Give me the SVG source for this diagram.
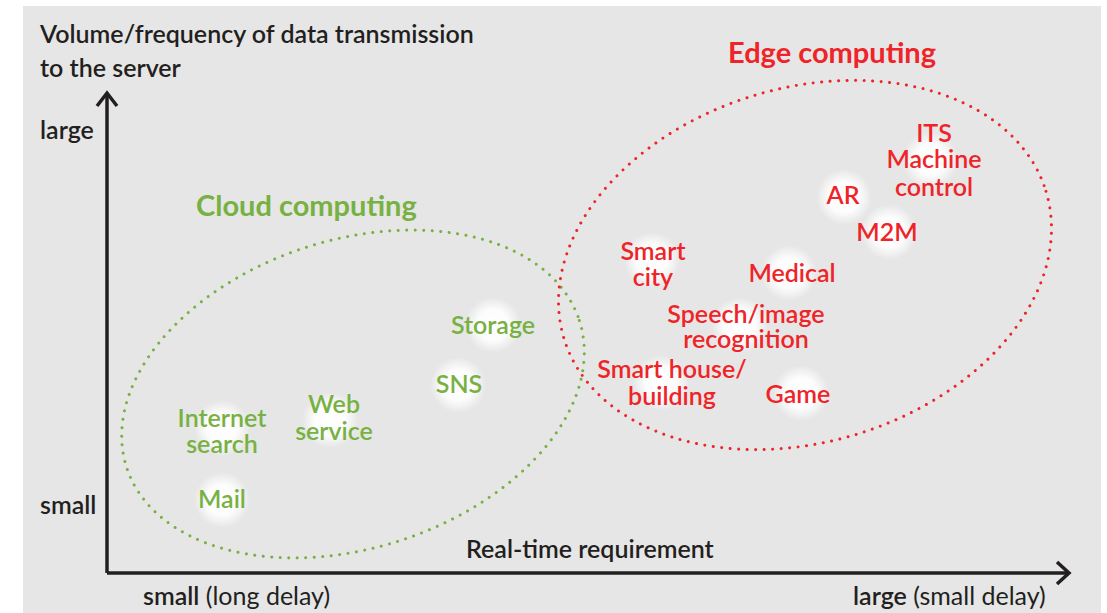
<svg xmlns="http://www.w3.org/2000/svg" width="1107" height="613" viewBox="0 0 1107 613">
<defs>
<radialGradient id="glow">
<stop offset="0" stop-color="#ffffff" stop-opacity="1"/>
<stop offset="0.55" stop-color="#ffffff" stop-opacity="0.9"/>
<stop offset="1" stop-color="#ffffff" stop-opacity="0"/>
</radialGradient>
</defs>
<style>
text{font-family:Lato,"Liberation Sans",sans-serif}
.ax{fill:#231f20;font-size:25px;font-weight:600}
.axn{fill:#231f20;font-size:25px;font-weight:400}
.g{fill:#77b142;font-size:25px;font-weight:600;text-anchor:middle}
.r{fill:#ee2428;font-size:25px;font-weight:600;text-anchor:middle}
.gt{fill:#77b142;font-size:29px;font-weight:700}
.rt{fill:#ee2428;font-size:29px;font-weight:700}
.axis{stroke:#231f20;stroke-width:3.5;fill:none}
.gd{fill:none;stroke:#77b142;stroke-width:3;stroke-linecap:round;stroke-dasharray:0 8.5}
.rd{fill:none;stroke:#ee2428;stroke-width:3;stroke-linecap:round;stroke-dasharray:0 8.5}
.glow{fill:url(#glow)}
</style>
<rect x="23" y="6" width="1078" height="607" fill="#e6e6e6"/>

<g id="axes">
<polyline class="axis" points="107,573 107,93"/>
<polyline class="axis" points="97,106 107,93 117,106"/>
<polyline class="axis" points="107,573 1069,573"/>
<polyline class="axis" points="1057,562 1069,573 1057,584"/>
<text class="ax" x="40" y="43">Volume/frequency of data transmission</text>
<text class="ax" x="40" y="77">to the server</text>
<text class="ax" x="40" y="139">large</text>
<text class="ax" x="40" y="514">small</text>
<text class="ax" x="466" y="558">Real-time requirement</text>
<text x="143" y="605"><tspan class="ax">small</tspan><tspan class="axn"> (long delay)</tspan></text>
<text x="853" y="605"><tspan class="ax">large</tspan><tspan class="axn"> (small delay)</tspan></text>
</g>

<g id="cloud">
<ellipse class="gd" cx="353" cy="394" rx="238" ry="154" transform="rotate(-18 353 394)"/>
<text class="gt" x="196" y="216">Cloud computing</text>
</g>

<g id="edge">
<ellipse class="rd" cx="805" cy="265" rx="252" ry="177" transform="rotate(-17 805 265)"/>
<text class="rt" x="728" y="63">Edge computing</text>
</g>

<g id="storage"><circle class="glow" cx="493" cy="325" r="28"/><text class="g" x="493" y="334">Storage</text></g>
<g id="sns"><circle class="glow" cx="458" cy="385" r="28"/><text class="g" x="459" y="393">SNS</text></g>
<g id="web"><circle class="glow" cx="330" cy="420" r="28"/><text class="g" x="334" y="413">Web</text><text class="g" x="334" y="440">service</text></g>
<g id="internet"><circle class="glow" cx="222" cy="428" r="28"/><text class="g" x="222" y="427">Internet</text><text class="g" x="222" y="453">search</text></g>
<g id="mail"><circle class="glow" cx="222" cy="500" r="28"/><text class="g" x="222" y="508">Mail</text></g>

<g id="its"><circle class="glow" cx="930" cy="160" r="28"/><text class="r" x="934" y="142">ITS</text><text class="r" x="934" y="168">Machine</text><text class="r" x="934" y="196">control</text></g>
<g id="ar"><circle class="glow" cx="844" cy="197" r="28"/><text class="r" x="843" y="204">AR</text></g>
<g id="m2m"><circle class="glow" cx="889" cy="232" r="28"/><text class="r" x="887" y="241">M2M</text></g>
<g id="smartcity"><circle class="glow" cx="652" cy="260" r="28"/><text class="r" x="653" y="260">Smart</text><text class="r" x="653" y="286">city</text></g>
<g id="medical"><circle class="glow" cx="789" cy="273" r="28"/><text class="r" x="792" y="282">Medical</text></g>
<g id="speech"><circle class="glow" cx="740" cy="325" r="28"/><text class="r" x="746" y="323">Speech/image</text><text class="r" x="746" y="348">recognition</text></g>
<g id="house"><circle class="glow" cx="661" cy="383" r="28"/><text class="r" x="672" y="378">Smart house/</text><text class="r" x="672" y="405">building</text></g>
<g id="game"><circle class="glow" cx="801" cy="393" r="28"/><text class="r" x="798" y="403">Game</text></g>
</svg>
